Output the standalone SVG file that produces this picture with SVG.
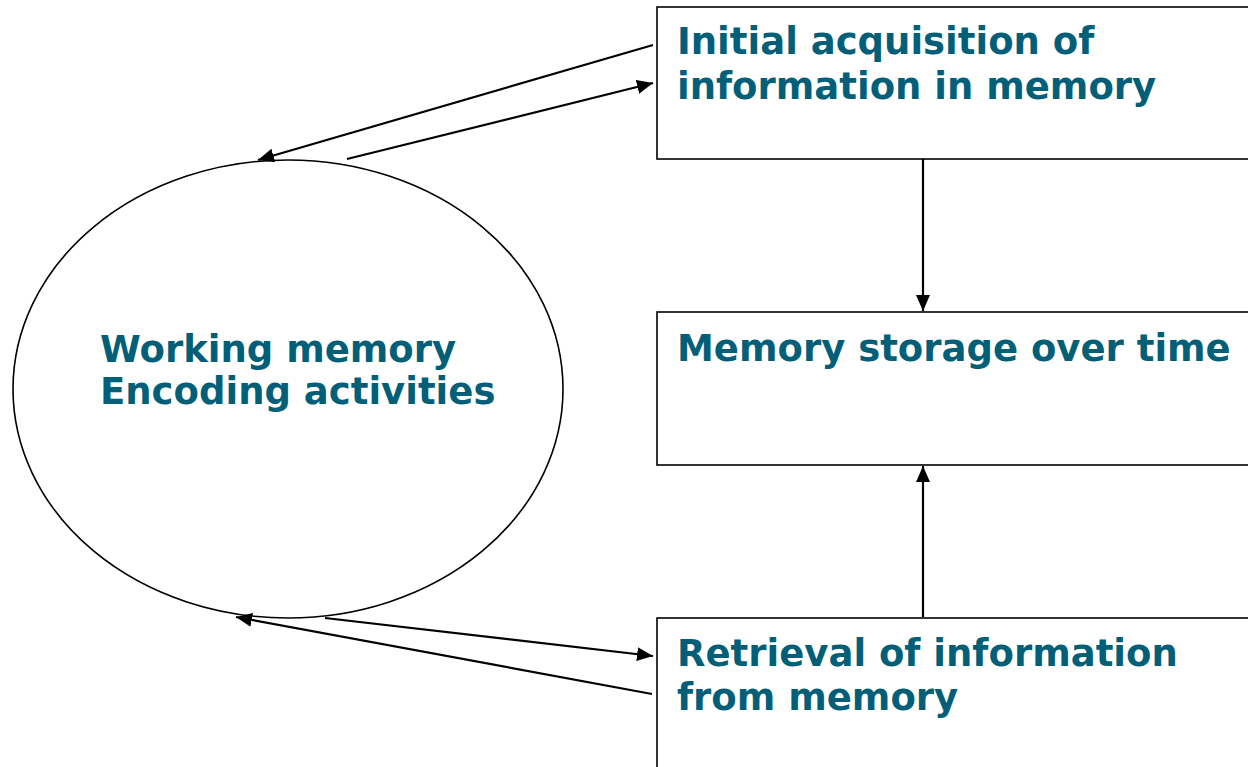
<svg xmlns="http://www.w3.org/2000/svg" width="1248" height="767" viewBox="0 0 1248 767">
  <style>
    .shape { fill: #ffffff; stroke: #000000; stroke-width: 1.6; }
    .label { font-family: "DejaVu Sans", Verdana, sans-serif; font-weight: bold; font-size: 37px; fill: #035F78; }
    .link { stroke: #000000; stroke-width: 2.2; fill: none; marker-end: url(#head); }
  </style>
  <defs>
    <marker id="head" markerUnits="userSpaceOnUse" markerWidth="17" markerHeight="15" refX="16" refY="7" orient="auto">
      <path d="M0,0 L16,7 L0,14 Z" fill="#000000"/>
    </marker>
  </defs>
  <rect width="1248" height="767" fill="#ffffff"/>

  <g id="working-memory">
    <ellipse class="shape" cx="288" cy="389" rx="275" ry="229"/>
    <text class="label" x="100" y="362">Working memory</text>
    <text class="label" x="100" y="404">Encoding activities</text>
  </g>

  <g id="acquisition">
    <rect class="shape" x="657" y="7" width="600" height="152"/>
    <text class="label" x="677" y="54">Initial acquisition of</text>
    <text class="label" x="677" y="99">information in memory</text>
  </g>

  <g id="storage">
    <rect class="shape" x="657" y="312" width="600" height="153"/>
    <text class="label" x="677" y="361">Memory storage over time</text>
  </g>

  <g id="retrieval">
    <rect class="shape" x="657" y="618" width="600" height="160"/>
    <text class="label" x="677" y="666">Retrieval of information</text>
    <text class="label" x="677" y="710">from memory</text>
  </g>

  <g id="connectors">
    <line class="link" x1="653" y1="45" x2="258" y2="160"/>
    <line class="link" x1="347" y1="159" x2="653" y2="83"/>
    <line class="link" x1="923" y1="159" x2="923" y2="311"/>
    <line class="link" x1="923" y1="617" x2="923" y2="466"/>
    <line class="link" x1="325" y1="618" x2="653" y2="656"/>
    <line class="link" x1="652" y1="694" x2="236" y2="617"/>
  </g>
</svg>
